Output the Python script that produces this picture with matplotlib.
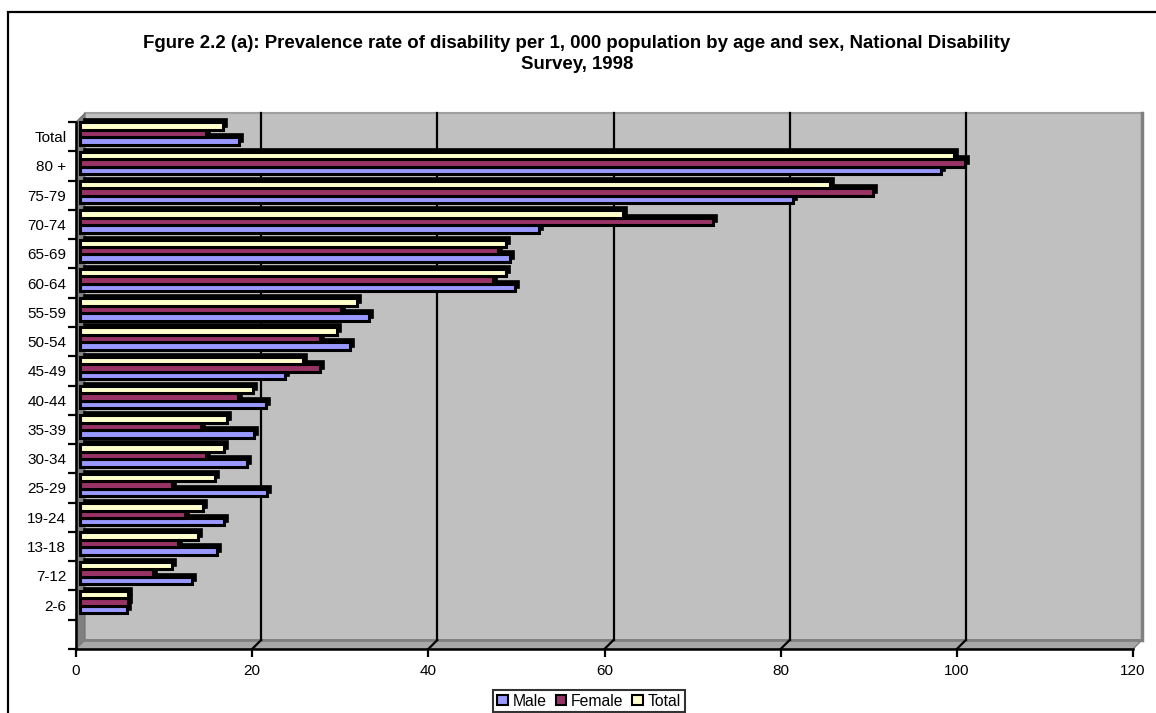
import matplotlib
matplotlib.use("Agg")
import matplotlib.pyplot as plt
from matplotlib.patches import Rectangle, Polygon, Patch
from matplotlib.transforms import offset_copy

plt.rcParams['font.family'] = ['Liberation Sans', 'DejaVu Sans']

categories = ["Total", "80 +", "75-79", "70-74", "65-69", "60-64", "55-59", "50-54",
              "45-49", "40-44", "35-39", "30-34", "25-29", "19-24", "13-18", "7-12", "2-6"]
male = [18.0, 97.8, 81.0, 52.1, 48.8, 49.4, 32.8, 30.6, 23.3, 21.1, 19.8, 19.0, 21.2, 16.3, 15.5, 12.7, 5.3]
female = [14.3, 100.5, 90.0, 71.9, 47.5, 46.9, 29.6, 27.2, 27.3, 17.9, 13.7, 14.3, 10.5, 11.9, 11.1, 8.3, 5.4]
total = [16.2, 99.2, 85.1, 61.7, 48.4, 48.4, 31.5, 29.2, 25.3, 19.6, 16.7, 16.4, 15.3, 14.0, 13.4, 10.4, 5.4]
series_names = ["Male", "Female", "Total"]
series_colors = ["#9999FF", "#993366", "#FFFFCC"]
x_ticks = [0, 20, 40, 60, 80, 100, 120]
title = ("Fgure 2.2 (a): Prevalence rate of disability per 1, 000 population by age and sex, National Disability\n"
         "Survey, 1998")

W, H = 1156, 713
fig = plt.figure(figsize=(W / 100, H / 100), dpi=100)
fig.patch.set_facecolor("white")

# outer border
fig.add_artist(Rectangle((8 / W, -0.05), 1.2, 1 - 12 / H + 0.05, transform=fig.transFigure,
                         fill=False, edgecolor="black", lw=1.6))

fig.text(0.499, 1 - 54 / H, title, ha="center", va="center", fontsize=13.4, fontweight="bold",
         linespacing=1.25)

x0, x1, ytop, ybot = 76, 1133, 122, 649
ax = fig.add_axes([x0 / W, 1 - ybot / H, (x1 - x0) / W, (ybot - ytop) / H])
ax.set_xlim(0, 120)
nslots = len(categories) + 1
ax.set_ylim(0, nslots)
ax.patch.set_visible(False)

px_x = (x1 - x0) / 120.0
px_y = (ybot - ytop) / nslots
dx = 9 / px_x
dy = 9 / px_y

# walls and floor
ax.add_patch(Rectangle((dx, dy), 120, nslots, facecolor="#C0C0C0", edgecolor="none", zorder=0, clip_on=False))
ax.plot([dx, 120 + dx], [nslots + dy, nslots + dy], color="#A0A0A0", lw=1.5, zorder=0.5, clip_on=False)
ax.plot([120 + dx, 120 + dx], [dy, nslots + dy], color="#808080", lw=2.5, zorder=0.5, clip_on=False)
ax.add_patch(Polygon([(0, 0), (dx, dy), (dx, nslots + dy), (0, nslots)], closed=True,
                     facecolor="#808080", edgecolor="#707070", lw=0.8, zorder=0.6, clip_on=False))
ax.add_patch(Polygon([(0, 0), (120, 0), (120 + dx, dy), (dx, dy)], closed=True,
                     facecolor="#A8A8A8", edgecolor="#808080", lw=1.0, zorder=0.6, clip_on=False))
ax.plot([dx, 120 + dx], [dy, dy], color="#808080", lw=2, zorder=0.7, clip_on=False)

for t in x_ticks[1:-1]:
    ax.plot([t + dx, t + dx], [dy, nslots + dy], color="black", lw=1.6, zorder=1, clip_on=False)
    ax.plot([t, t + dx], [0, dy], color="black", lw=1.6, zorder=1, clip_on=False)

# bars
bar_h = 0.256
face_tr = offset_copy(ax.transData, fig=fig, x=4, y=3, units="dots")
shadow_tr = offset_copy(ax.transData, fig=fig, x=8, y=6, units="dots")
centers = [nslots - 0.5 - i for i in range(len(categories))]
data = [male, female, total]
for j, vals in enumerate(data):
    ys = [c + (j - 1) * bar_h for c in centers]
    ax.barh(ys, vals, height=bar_h, color="black", edgecolor="black", lw=1.2,
            transform=shadow_tr, zorder=2, clip_on=False)
for j, vals in enumerate(data):
    ys = [c + (j - 1) * bar_h for c in centers]
    ax.barh(ys, vals, height=bar_h, color=series_colors[j], edgecolor="black", lw=2.2,
            transform=face_tr, zorder=3, clip_on=False)

# axes styling
for s in ["top", "right"]:
    ax.spines[s].set_visible(False)
for s in ["left", "bottom"]:
    ax.spines[s].set_linewidth(1.8)
    ax.spines[s].set_zorder(4)
ax.set_xticks(x_ticks)
ax.set_xticklabels([str(t) for t in x_ticks], fontsize=11)
ax.tick_params(axis="x", direction="out", length=6, width=1.6, pad=5)
ax.set_yticks(range(nslots + 1))
ax.set_yticklabels([])
ax.tick_params(axis="y", which="major", direction="out", length=6, width=1.6)
ax.set_yticks(centers, minor=True)
ax.set_yticklabels(categories, minor=True, fontsize=11)
ax.tick_params(axis="y", which="minor", length=0, pad=7)

handles = [Patch(facecolor=c, edgecolor="black", lw=1.5) for c in series_colors]
leg = fig.legend(handles, series_names, loc="center", bbox_to_anchor=(589 / W, 1 - 701 / H),
                 ncol=3, fontsize=11.3, frameon=True, fancybox=False, handlelength=0.65,
                 handleheight=0.65, handletextpad=0.3, columnspacing=0.6, borderpad=0.25,
                 borderaxespad=0)
leg.get_frame().set_edgecolor("black")
leg.get_frame().set_linewidth(1.5)

fig.savefig("out.png", dpi=100)
